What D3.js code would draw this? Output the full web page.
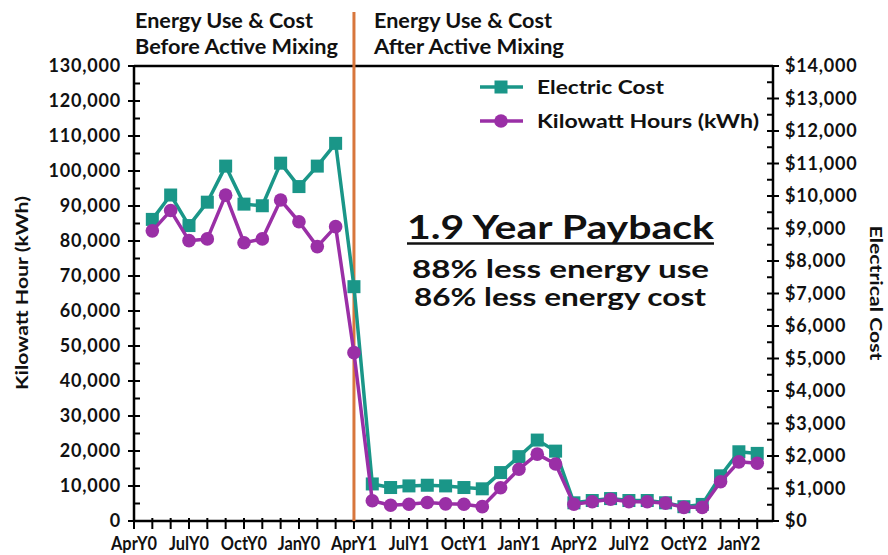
<!DOCTYPE html>
<html>
<head>
<meta charset="utf-8">
<script src="https://cdn.jsdelivr.net/npm/d3@7"></script>
<style>
  html, body { margin: 0; padding: 0; background: #fff; }
  svg { display: block; }
  text { font-family: Lato, "Open Sans", sans-serif; font-weight: 700; fill: #111; }
</style>
</head>
<body>
<svg id="chart" width="888" height="555"></svg>
<script>
// ---- data ----
const months = ["AprY0","MayY0","JunY0","JulY0","AugY0","SepY0","OctY0","NovY0","DecY0","JanY0","FebY0","MarY0",
                "AprY1","MayY1","JunY1","JulY1","AugY1","SepY1","OctY1","NovY1","DecY1","JanY1","FebY1","MarY1",
                "AprY2","MayY2","JunY2","JulY2","AugY2","SepY2","OctY2","NovY2","DecY2","JanY2","FebY2"];
const dataMonths = months.slice(1);
const electricCost = [9280, 10030, 9090, 9810, 10920, 9750, 9700, 11010, 10290, 10920, 11620, 7210,
                      1140, 1030, 1080, 1100, 1080, 1030, 990, 1490, 1980, 2490, 2150,
                      560, 630, 690, 630, 630, 560, 440, 510, 1390, 2130, 2080];
const kilowattHours = [82900, 88700, 80100, 80600, 93100, 79500, 80600, 91700, 85500, 78400, 84100, 48100,
                       5800, 4500, 4800, 5300, 4900, 4800, 4100, 9500, 14800, 19100, 16300,
                       4800, 5500, 6200, 5500, 5500, 5100, 3900, 3900, 11200, 16900, 16500];
const xTickLabels = ["AprY0","JulY0","OctY0","JanY0","AprY1","JulY1","OctY1","JanY1","AprY2","JulY2","OctY2","JanY2"];
const kwhTicks = [0,10000,20000,30000,40000,50000,60000,70000,80000,90000,100000,110000,120000,130000];
const costTicks = [0,1000,2000,3000,4000,5000,6000,7000,8000,9000,10000,11000,12000,13000,14000];
const changeMonth = "AprY1";

// ---- layout ----
const svg = d3.select("#chart");
const L = 134, R = 773, T = 66, B = 521;
const step = 18.33;
const teal = "#1a9688", purple = "#9a2fa6", orange = "#d8763c";

const x = d3.scalePoint().domain(months).range([L, L + step * (months.length - 1)]);
const yL = d3.scaleLinear().domain([0, 130000]).range([B, T]);
const yR = d3.scaleLinear().domain([0, 14000]).range([B, T]);

const g = svg.append("g");

function txt(xp, yp, size, s, len, anchor) {
  const t = g.append("text").attr("x", xp).attr("y", yp).attr("font-size", size)
    .attr("text-anchor", anchor || "start").text(s);
  if (len) t.attr("textLength", len).attr("lengthAdjust", "spacingAndGlyphs");
  return t;
}

// frame lines
[[L, T, R, T], [L, B, R, B], [L, T, L, B], [R, T, R, B]].forEach(c => {
  g.append("line").attr("x1", c[0]).attr("y1", c[1]).attr("x2", c[2]).attr("y2", c[3])
    .attr("stroke", "#000").attr("stroke-width", 2.5);
});

// left ticks
const minorL = d3.range(5000, 130000, 10000);
g.selectAll(".lmin").data(minorL).join("line")
  .attr("x1", L).attr("x2", L + 6).attr("y1", d => yL(d)).attr("y2", d => yL(d))
  .attr("stroke", "#000").attr("stroke-width", 2);
g.selectAll(".lmaj").data(kwhTicks).join("line")
  .attr("x1", L - 6).attr("x2", L + 6).attr("y1", d => yL(d)).attr("y2", d => yL(d))
  .attr("stroke", "#000").attr("stroke-width", 2);
const fmt = d3.format(",");
g.selectAll(".llab").data(kwhTicks).join("text")
  .attr("x", L - 13).attr("y", d => yL(d)).attr("dy", "0.36em")
  .attr("text-anchor", "end").attr("font-size", 18).attr("letter-spacing", 0.8).text(d => fmt(d));

// right ticks
const minorR = d3.range(500, 14000, 1000);
g.selectAll(".rmin").data(minorR).join("line")
  .attr("x1", R - 6).attr("x2", R).attr("y1", d => yR(d)).attr("y2", d => yR(d))
  .attr("stroke", "#000").attr("stroke-width", 2);
g.selectAll(".rmaj").data(costTicks).join("line")
  .attr("x1", R - 6).attr("x2", R + 6).attr("y1", d => yR(d)).attr("y2", d => yR(d))
  .attr("stroke", "#000").attr("stroke-width", 2);
g.selectAll(".rlab").data(costTicks).join("text")
  .attr("x", R + 12).attr("y", d => yR(d)).attr("dy", "0.36em")
  .attr("text-anchor", "start").attr("font-size", 18).attr("letter-spacing", 0.8).text(d => "$" + fmt(d));

// x ticks
g.selectAll(".xt").data(months).join("line")
  .attr("x1", d => x(d)).attr("x2", d => x(d)).attr("y1", B - 3).attr("y2", B + 8)
  .attr("stroke", "#000").attr("stroke-width", 2);
g.selectAll(".xlab").data(xTickLabels).join("text")
  .attr("transform", d => `translate(${x(d)},550) scale(0.84,1)`)
  .attr("text-anchor", "middle").attr("font-size", 19.5).text(d => d);

// orange divider
g.append("line").attr("x1", x(changeMonth)).attr("x2", x(changeMonth)).attr("y1", 12).attr("y2", B)
  .attr("stroke", orange).attr("stroke-width", 3);

// series
const costData = dataMonths.map((m, i) => ({ m, v: electricCost[i] }));
const kwhData = dataMonths.map((m, i) => ({ m, v: kilowattHours[i] }));

const lineCost = d3.line().x(d => x(d.m)).y(d => yR(d.v));
const lineKwh = d3.line().x(d => x(d.m)).y(d => yL(d.v));

g.append("path").datum(costData).attr("d", lineCost).attr("fill", "none")
  .attr("stroke", teal).attr("stroke-width", 3.5).attr("stroke-linejoin", "round");
g.selectAll(".sq").data(costData).join("rect")
  .attr("x", d => x(d.m) - 6.5).attr("y", d => yR(d.v) - 6.5).attr("width", 13).attr("height", 13)
  .attr("fill", teal);

g.append("path").datum(kwhData).attr("d", lineKwh).attr("fill", "none")
  .attr("stroke", purple).attr("stroke-width", 3.5).attr("stroke-linejoin", "round");
g.selectAll(".ci").data(kwhData).join("circle")
  .attr("cx", d => x(d.m)).attr("cy", d => yL(d.v)).attr("r", 6.8)
  .attr("fill", purple);

// legend
g.append("line").attr("x1", 480).attr("x2", 523).attr("y1", 87).attr("y2", 87).attr("stroke", teal).attr("stroke-width", 3.5);
g.append("rect").attr("x", 494.5).attr("y", 80.5).attr("width", 13).attr("height", 13).attr("fill", teal);
txt(537, 94, 19.5, "Electric Cost", 127);
g.append("line").attr("x1", 480).attr("x2", 523).attr("y1", 121).attr("y2", 121).attr("stroke", purple).attr("stroke-width", 3.5);
g.append("circle").attr("cx", 501).attr("cy", 121).attr("r", 6.8).attr("fill", purple);
txt(537, 128, 19.5, "Kilowatt Hours (kWh)", 222);

// header texts
txt(135, 28, 20, "Energy Use & Cost", 178);
txt(135, 54, 20, "Before Active Mixing", 203);
txt(374, 28, 20, "Energy Use & Cost", 178);
txt(374, 54, 20, "After Active Mixing", 190);

// annotation
txt(407, 239, 32, "1.9 Year Payback", 307);
g.append("line").attr("x1", 407).attr("x2", 714).attr("y1", 243.5).attr("y2", 243.5).attr("stroke", "#111").attr("stroke-width", 2.5);
txt(412, 278, 25, "88% less energy use", 297);
txt(414, 306, 25, "86% less energy cost", 292);

// axis titles
g.append("text").attr("transform", "translate(28,293) rotate(-90)").attr("text-anchor", "middle")
  .attr("font-size", 17.5).attr("textLength", 194).attr("lengthAdjust", "spacingAndGlyphs").text("Kilowatt Hour (kWh)");
g.append("text").attr("transform", "translate(870,293) rotate(90)").attr("text-anchor", "middle")
  .attr("font-size", 17.5).attr("textLength", 135).attr("lengthAdjust", "spacingAndGlyphs").text("Electrical Cost");
</script>
</body>
</html>
